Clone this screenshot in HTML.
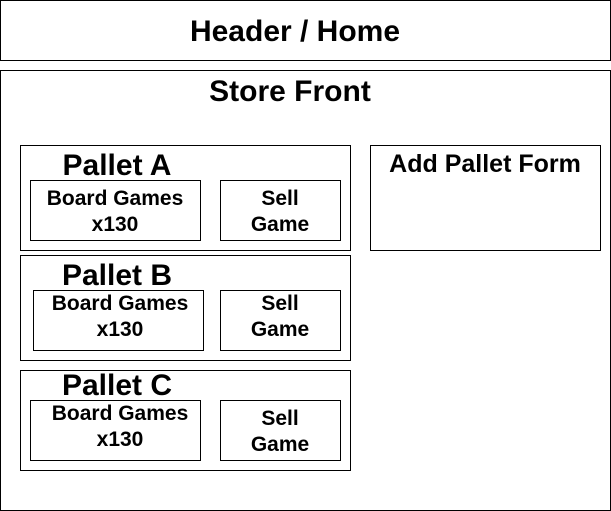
<!DOCTYPE html>
<html><head><meta charset="utf-8"><style>body{margin:0;background:#fff}svg{display:block}</style></head><body>
<svg width="611" height="511" xmlns="http://www.w3.org/2000/svg" font-family="Liberation Sans, Arial, sans-serif" font-weight="bold" text-anchor="middle">
<g fill="#fff" stroke="#000" stroke-width="1">
<rect x="0.5" y="0.5" width="610" height="60"/>
<rect x="0.5" y="70.5" width="610" height="440"/>
<rect x="20.5" y="145.5" width="330" height="105"/>
<rect x="30.5" y="180.5" width="170" height="60"/>
<rect x="220.5" y="180.5" width="120" height="60"/>
<rect x="20.5" y="255.5" width="330" height="105"/>
<rect x="33.5" y="290.5" width="170" height="60"/>
<rect x="220.5" y="290.5" width="120" height="60"/>
<rect x="20.5" y="370.5" width="330" height="100"/>
<rect x="30.5" y="400.5" width="170" height="60"/>
<rect x="220.5" y="400.5" width="120" height="60"/>
<rect x="370.5" y="145.5" width="230" height="105"/>
</g>
<text x="295" y="41" font-size="30">Header / Home</text>
<text x="290" y="101" font-size="30">Store Front</text>
<text x="117" y="175" font-size="30">Pallet A</text>
<text x="117" y="285" font-size="30">Pallet B</text>
<text x="117" y="395" font-size="30">Pallet C</text>
<text x="485" y="172" font-size="25">Add Pallet Form</text>
<g font-size="21">
<text x="115" y="205">Board Games</text><text x="115" y="231">x130</text>
<text x="280" y="205">Sell</text><text x="280" y="231">Game</text>
<text x="120" y="310">Board Games</text><text x="120" y="336">x130</text>
<text x="280" y="310">Sell</text><text x="280" y="336">Game</text>
<text x="120" y="420">Board Games</text><text x="120" y="446">x130</text>
<text x="280" y="425">Sell</text><text x="280" y="451">Game</text>
</g>
</svg>
</body></html>
